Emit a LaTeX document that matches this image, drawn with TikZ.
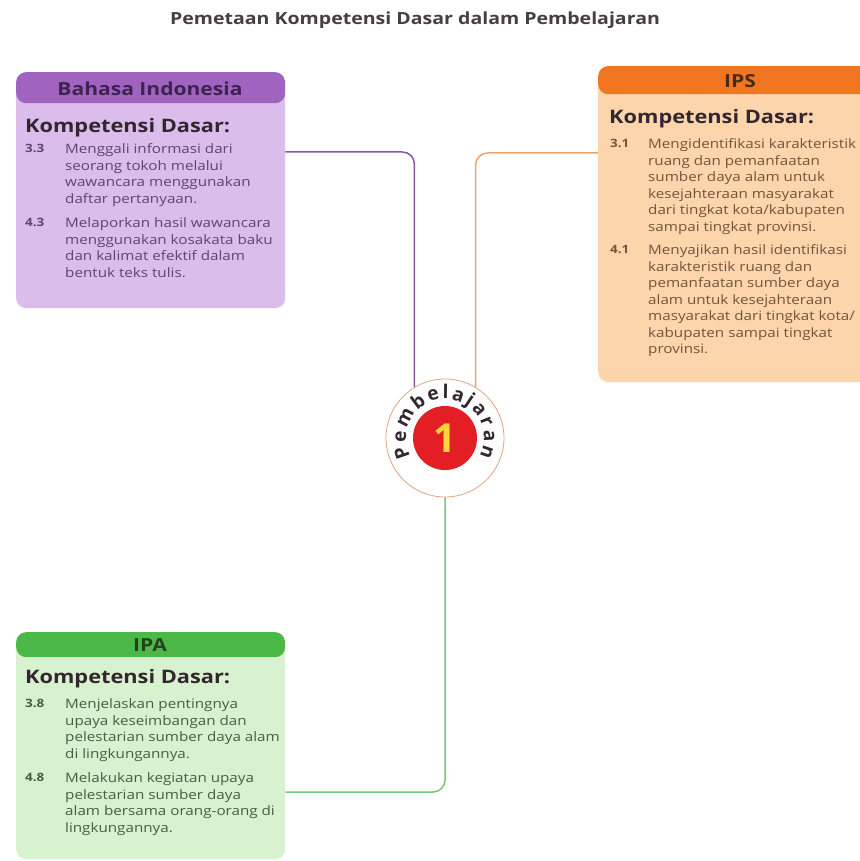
\documentclass[tikz,border=0pt]{standalone}
\usepackage{fontspec}
\setmainfont{Open Sans}
\newfontfamily\widefont[FakeStretch=1.17]{Open Sans}
\usetikzlibrary{decorations.text}

\definecolor{bihead}{HTML}{A063C0}
\definecolor{bibody}{HTML}{DBBCEA}
\definecolor{bitext}{HTML}{604570}
\definecolor{bititle}{HTML}{3E2250}
\definecolor{biline}{HTML}{8A569F}
\definecolor{ipshead}{HTML}{F27621}
\definecolor{ipsbody}{HTML}{FCD5AD}
\definecolor{ipstext}{HTML}{74543C}
\definecolor{ipstitle}{HTML}{4A2A12}
\definecolor{ipsline}{HTML}{EBA66C}
\definecolor{ipahead}{HTML}{4CB848}
\definecolor{ipabody}{HTML}{D8F1CF}
\definecolor{ipatext}{HTML}{465F42}
\definecolor{ipatitle}{HTML}{24421F}
\definecolor{ipaline}{HTML}{7CC47A}
\definecolor{ringcol}{HTML}{DDA585}
\definecolor{badgered}{HTML}{E31E24}
\definecolor{badgeyellow}{HTML}{FFD43A}
\definecolor{kdcol}{HTML}{33272F}

\tikzset{
  x=1pt, y=-1pt,
  subject/.style n args={3}{draw=none, fill=#2, rounded corners=10pt,
    anchor=north west, inner sep=0pt,
    path picture={\fill[#1] (path picture bounding box.north west)
      rectangle ([yshift=-#3]path picture bounding box.north east);}},
  headtxt/.style={font=\widefont\fontsize{18}{18}\selectfont\bfseries, inner sep=0pt},
  kdtxt/.style={font=\widefont\fontsize{18.6}{18.6}\selectfont\bfseries, text=kdcol,
    anchor=west, inner sep=0pt},
  numtxt/.style={font=\widefont\fontsize{11.5}{16.5}\selectfont\bfseries, anchor=north west, inner sep=0pt},
  itemtxt/.style={font=\widefont\fontsize{13}{16.5}\selectfont, anchor=north west,
    inner sep=0pt, align=left},
  link/.style={line width=1.5pt, rounded corners=12pt},
}

\begin{document}
\begin{tikzpicture}
\useasboundingbox (0,0) rectangle (859,861);
\fill[white] (0,0) rectangle (859,861);

% title
\node[font=\widefont\fontsize{16.7}{16.7}\selectfont\bfseries, text=kdcol!90, inner sep=0pt]
  (title) at (415,20) {Pemetaan Kompetensi Dasar dalam Pembelajaran};

% central badge
\node[circle, draw=ringcol, line width=0.8pt, fill=white, minimum size=118pt, inner sep=0pt]
  (circ) at (445,438) {};
\node[circle, fill=badgered, minimum size=64pt, inner sep=0pt,
  font=\fontsize{40}{40}\selectfont\bfseries, text=badgeyellow]
  (badge) at (circ.center) {1};
% y runs downwards here, so the arc angles are mirrored
\path[decorate, decoration={text along path, text align=fit to path,
    text={|\fontsize{19}{19}\selectfont\bfseries\color{kdcol}|Pembelajaran}}]
  (circ.center) ++(-208:39) arc[start angle=-208, end angle=28, radius=39];

% Bahasa Indonesia
\node[subject={bihead}{bibody}{31pt}, minimum width=269pt, minimum height=236pt]
  (bi) at (16,72) {};
\node[headtxt, text=bititle] (bihd) at (150,89) {Bahasa Indonesia};
\node[kdtxt] (bikd) at (25,128) {Kompetensi Dasar:};
\node[numtxt, text=bitext] (bin1) at (25,143.6) {3.3};
\node[itemtxt, text=bitext] (bit1) at (65,143.6) {Menggali informasi dari\\seorang tokoh melalui\\wawancara menggunakan\\daftar pertanyaan.};
\node[numtxt, text=bitext] (bin2) at (25,217.6) {4.3};
\node[itemtxt, text=bitext] (bit2) at (65,217.6) {Melaporkan hasil wawancara\\menggunakan kosakata baku\\dan kalimat efektif dalam\\bentuk teks tulis.};

% IPS
\node[subject={ipshead}{ipsbody}{28pt}, minimum width=280pt, minimum height=316pt]
  (ips) at (598,66) {};
\node[headtxt, text=ipstitle] (ipshd) at (740,81) {IPS};
\node[kdtxt] (ipskd) at (609,119) {Kompetensi Dasar:};
\node[numtxt, text=ipstext] (ipsn1) at (610,138.6) {3.1};
\node[itemtxt, text=ipstext] (ipst1) at (648,138.6) {Mengidentifikasi karakteristik\\ruang dan pemanfaatan\\sumber daya alam untuk\\kesejahteraan masyarakat\\dari tingkat kota/kabupaten\\sampai tingkat provinsi.};
\node[numtxt, text=ipstext] (ipsn2) at (610,244.6) {4.1};
\node[itemtxt, text=ipstext] (ipst2) at (648,244.6) {Menyajikan hasil identifikasi\\karakteristik ruang dan\\pemanfaatan sumber daya\\alam untuk kesejahteraan\\masyarakat dari tingkat kota/\\kabupaten sampai tingkat\\provinsi.};

% IPA
\node[subject={ipahead}{ipabody}{25pt}, minimum width=269pt, minimum height=227pt]
  (ipa) at (16,632) {};
\node[headtxt, text=ipatitle] (ipahd) at (150,645) {IPA};
\node[kdtxt] (ipakd) at (25,679) {Kompetensi Dasar:};
\node[numtxt, text=ipatext] (ipan1) at (25,698.6) {3.8};
\node[itemtxt, text=ipatext] (ipat1) at (65,698.6) {Menjelaskan pentingnya\\upaya keseimbangan dan\\pelestarian sumber daya alam\\di lingkungannya.};
\node[numtxt, text=ipatext] (ipan2) at (25,772.6) {4.8};
\node[itemtxt, text=ipatext] (ipat2) at (65,772.6) {Melakukan kegiatan upaya\\pelestarian sumber daya\\alam bersama orang-orang di\\lingkungannya.};

% connectors to the badge
\draw[link, biline] ([yshift=-80pt]bi.north east) -| (circ.121);
\draw[link, ipsline] ([yshift=-87pt]ips.north west) -| (circ.59);
\draw[link, ipaline] (circ.south) |- ([yshift=-160pt]ipa.north east);
\end{tikzpicture}
\end{document}
